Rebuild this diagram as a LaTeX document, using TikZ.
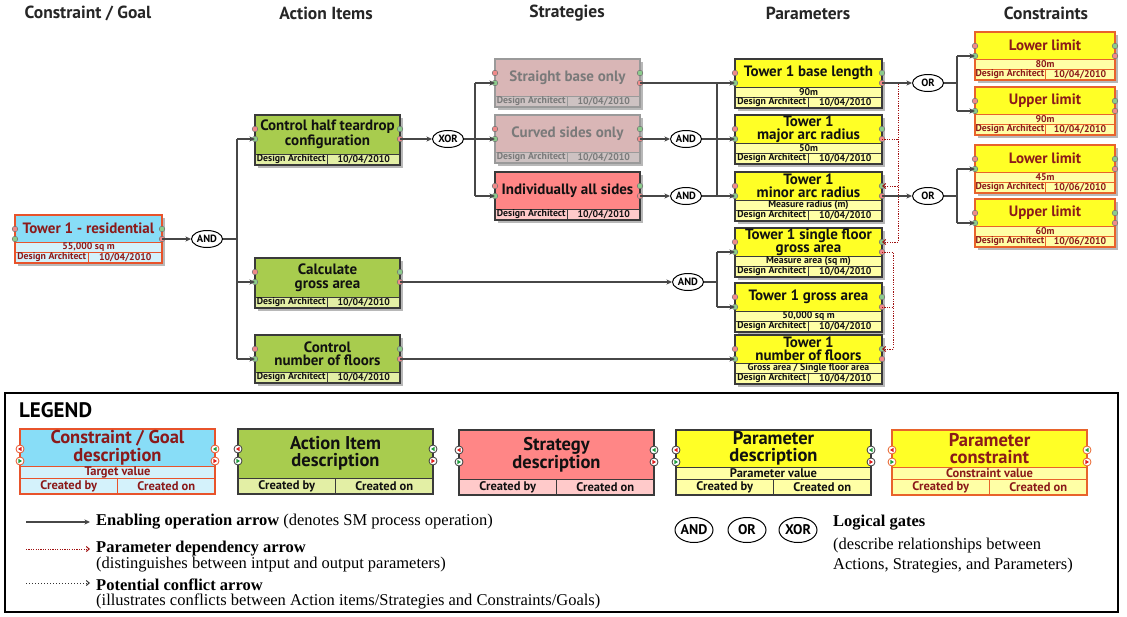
\documentclass[tikz,border=0pt]{standalone}
\usepackage{fontspec}
\setmainfont{Liberation Serif}
\newfontfamily\bsans{PT Sans}
\usetikzlibrary{shapes.geometric,arrows.meta}

\definecolor{cgmain}{HTML}{88DDF7}
\definecolor{cglight}{HTML}{D4F2FB}
\definecolor{cgborder}{HTML}{E8532B}
\definecolor{cgtext}{HTML}{8B1A1A}
\definecolor{aimain}{HTML}{A8CC4E}
\definecolor{ailight}{HTML}{E3EFA5}
\definecolor{aiborder}{HTML}{3A3A3A}
\definecolor{aitext}{HTML}{111111}
\definecolor{stmain}{HTML}{FF8686}
\definecolor{stlight}{HTML}{FFCACA}
\definecolor{stborder}{HTML}{3A3A3A}
\definecolor{sttext}{HTML}{111111}
\definecolor{sfmain}{HTML}{D9B6B6}
\definecolor{sflight}{HTML}{CDC2C2}
\definecolor{sfborder}{HTML}{9A9A9A}
\definecolor{sftext}{HTML}{7A7A7A}
\definecolor{pamain}{HTML}{FFFF26}
\definecolor{palight}{HTML}{FFFFA6}
\definecolor{paborder}{HTML}{3A3A3A}
\definecolor{patext}{HTML}{111111}
\definecolor{pcmain}{HTML}{FFFF26}
\definecolor{pclight}{HTML}{FFFFA6}
\definecolor{pcborder}{HTML}{E8632B}
\definecolor{pctext}{HTML}{8B1A1A}
\definecolor{portred}{HTML}{F08A8A}
\definecolor{portgreen}{HTML}{8CCB8C}
\definecolor{tred}{HTML}{E02020}
\definecolor{tgreen}{HTML}{20A040}
\definecolor{depred}{HTML}{A01010}

\tikzset{
  boxbase/.style={rectangle, anchor=north west, inner sep=0pt, outer sep=0pt, draw=none},
  titlefont/.style={font=\bsans\bfseries\fontsize{15}{13.5}\selectfont, align=center, inner sep=0pt},
  valfont/.style={font=\bsans\bfseries\fontsize{9.8}{10}\selectfont, inner sep=0pt},
  ltitlefont/.style={font=\bsans\bfseries\fontsize{18.5}{17.5}\selectfont, align=center, inner sep=0pt},
  lvalfont/.style={font=\bsans\bfseries\fontsize{12.5}{13}\selectfont, inner sep=0pt},
  gate/.style={ellipse, draw=black, line width=1pt, fill=white, font=\bsans\bfseries\fontsize{10.5}{10.5}\selectfont, inner sep=0pt, minimum width=31pt, minimum height=17pt},
  lgate/.style={gate, font=\bsans\bfseries\fontsize{14}{14}\selectfont, minimum width=38pt, minimum height=25pt},
  line/.style={draw=black!72, line width=1.2pt},
  conn/.style={line, -{Stealth[length=5.5pt,width=5pt,inset=1.5pt]}},
  dep/.style={draw=depred, line width=1pt, dash pattern=on 1.2pt off 1.2pt},
  deparrow/.style={dep, -{Straight Barb[length=3pt,width=5pt]}},
  confarrow/.style={draw=black!80, line width=1pt, dash pattern=on 1pt off 2pt, -{Straight Barb[length=3pt,width=5pt]}},
  header/.style={font=\bsans\bfseries\fontsize{17.5}{18}\selectfont, text=black!85},
  legtext/.style={font=\fontsize{16.5}{17}\selectfont, anchor=west, inner sep=0pt},
  portc/.style={draw=black!55, line width=.5pt},
}

% #1 colour prefix, #2 name, #3 x, #4 top y, #5 width, #6 height, #7 title, #8 value, #9 date
\newcommand\dbox[9]{%
  \pgfmathsetmacro\dBx{#3}%
  \pgfmathsetmacro\dBy{#4}%
  \pgfmathsetmacro\dBw{#5}%
  \pgfmathsetmacro\dBh{#6}%
  \pgfmathsetmacro\dBb{\dBy+\dBh-11}%
  \if\relax\detokenize{#8}\relax\let\dBv\dBb\else\pgfmathsetmacro\dBv{\dBb-10}\fi
  \fill[black,opacity=.28] ({\dBx+3},{\dBy+3}) rectangle ++(\dBw,\dBh);
  \node[boxbase, fill=#1main, minimum width=\dBw pt, minimum height=\dBh pt] (#2) at (\dBx,\dBy) {};
  \fill[#1light] (\dBx,\dBv) rectangle ({\dBx+\dBw},{\dBy+\dBh});
  \draw[#1border, line width=.6pt] (\dBx,\dBv) -- ++(\dBw,0) (\dBx,\dBb) -- ++(\dBw,0) ({\dBx+\dBw/2},\dBb) -- ++(0,11);
  \draw[#1border, line width=1.2pt] (\dBx,\dBy) rectangle ++(\dBw,\dBh);
  \node[#1text, titlefont] (#2-t) at ({\dBx+\dBw/2},{(\dBy+\dBv)/2}) {#7};
  \if\relax\detokenize{#8}\relax\else\node[#1text, valfont] (#2-v) at ({\dBx+\dBw/2},{(\dBv+\dBb)/2}) {#8};\fi
  \node[#1text, valfont] (#2-b) at ({\dBx+\dBw/4},{\dBb+5.5}) {Design Architect};
  \node[#1text, valfont] (#2-d) at ({\dBx+3*\dBw/4},{\dBb+5.5}) {#9};
  \coordinate (#2-lu) at (\dBx,{\dBy+14});
  \coordinate (#2-in) at (\dBx,{\dBy+24});
  \coordinate (#2-ru) at ({\dBx+\dBw},{\dBy+14});
  \coordinate (#2-out) at ({\dBx+\dBw},{\dBy+24});
  \draw[portc, fill=portred] (#2-lu) circle (2.8pt);
  \draw[portc, fill=portgreen] (#2-in) circle (2.8pt);
  \draw[portc, fill=portgreen] (#2-ru) circle (2.8pt);
  \draw[portc, fill=portred] (#2-out) circle (2.8pt);
}

\newcommand\ltri[3]{\fill[#3, shift={(#1)}, xscale=#2] (-2,0) -- (1.6,-2.2) -- (1.6,2.2) -- cycle;}

% #1 prefix, #2 name, #3 x, #4 y, #5 title, #6 value
\newcommand\lbox[6]{%
  \pgfmathsetmacro\dBx{#3}%
  \pgfmathsetmacro\dBy{#4}%
  \def\dBw{195}\def\dBh{65}%
  \pgfmathsetmacro\dBb{\dBy+49}%
  \if\relax\detokenize{#6}\relax\let\dBv\dBb\else\pgfmathsetmacro\dBv{\dBb-12}\fi
  \node[boxbase, fill=#1main, minimum width=195pt, minimum height=65pt] (#2) at (\dBx,\dBy) {};
  \fill[#1light] (\dBx,\dBv) rectangle ({\dBx+\dBw},{\dBy+\dBh});
  \draw[#1border, line width=.7pt] (\dBx,\dBv) -- ++(\dBw,0) (\dBx,\dBb) -- ++(\dBw,0) ({\dBx+\dBw/2},\dBb) -- ++(0,16);
  \draw[#1border, line width=1.3pt] (\dBx,\dBy) rectangle ++(\dBw,\dBh);
  \node[#1text, ltitlefont] (#2-t) at ({\dBx+\dBw/2},{(\dBy+\dBv)/2}) {#5};
  \if\relax\detokenize{#6}\relax\else\node[#1text, lvalfont] (#2-v) at ({\dBx+\dBw/2},{(\dBv+\dBb)/2}) {#6};\fi
  \node[#1text, lvalfont] (#2-b) at ({\dBx+\dBw/4},{\dBb+8}) {Created by};
  \node[#1text, lvalfont] (#2-d) at ({\dBx+3*\dBw/4},{\dBb+8}) {Created on};
  \coordinate (#2-lu) at (\dBx,{\dBy+20});
  \coordinate (#2-in) at (\dBx,{\dBy+32});
  \coordinate (#2-ru) at ({\dBx+\dBw},{\dBy+20});
  \coordinate (#2-out) at ({\dBx+\dBw},{\dBy+32});
  \foreach \pp in {lu,in,ru,out}{\draw[#1border, fill=white, line width=.8pt] (#2-\pp) circle (4pt);}
  \ltri{#2-lu}{1}{tred}
  \ltri{#2-in}{-1}{tgreen}
  \ltri{#2-ru}{1}{tgreen}
  \ltri{#2-out}{-1}{tred}
}

\begin{document}
\begin{tikzpicture}[x=1pt,y=-1pt]
\useasboundingbox (0,0) rectangle (1127,616);
\fill[white] (0,0) rectangle (1127,616);

% headers
\node[header] (h1) at (88,13) {Constraint / Goal};
\node[header] (h2) at (326,13) {Action Items};
\node[header] (h3) at (567,13) {Strategies};
\node[header] (h4) at (808,13) {Parameters};
\node[header] (h5) at (1046,13) {Constraints};

% boxes
\dbox{cg}{tres}{15}{215}{147}{48}{Tower 1 - residential}{55,000 sq m}{10/04/2010}
\dbox{ai}{act1}{255}{115}{145}{50}{Control half teardrop\\configuration}{}{10/04/2010}
\dbox{ai}{act2}{255}{258}{145}{50}{Calculate\\gross area}{}{10/04/2010}
\dbox{ai}{act3}{255}{335}{145}{48}{Control\\number of floors}{}{10/04/2010}
\dbox{sf}{st1}{495}{59}{145}{48}{Straight base only}{}{10/04/2010}
\dbox{sf}{st2}{495}{115}{145}{48}{Curved sides only}{}{10/04/2010}
\dbox{st}{st3}{495}{172}{145}{48}{Individually all sides}{}{10/04/2010}
\dbox{pa}{p1}{735}{59}{147}{49}{Tower 1 base length}{90m}{10/04/2010}
\dbox{pa}{p2}{735}{115}{147}{49}{Tower 1\\major arc radius}{50m}{10/04/2010}
\dbox{pa}{p3}{735}{172}{147}{49}{Tower 1\\minor arc radius}{Measure radius (m)}{10/04/2010}
\dbox{pa}{p4}{735}{228}{147}{49}{Tower 1 single floor\\gross area}{Measure area (sq m)}{10/04/2010}
\dbox{pa}{p5}{735}{283}{147}{49}{Tower 1 gross area}{50,000 sq m}{10/04/2010}
\dbox{pa}{p6}{735}{335}{147}{49}{Tower 1\\number of floors}{Gross area / Single floor area}{10/04/2010}
\dbox{pc}{c1}{975}{32}{140}{48}{Lower limit}{80m}{10/04/2010}
\dbox{pc}{c2}{975}{87}{140}{48}{Upper limit}{90m}{10/04/2010}
\dbox{pc}{c3}{975}{145}{140}{48}{Lower limit}{45m}{10/06/2010}
\dbox{pc}{c4}{975}{199}{140}{48}{Upper limit}{60m}{10/06/2010}

% gates
\node[gate] (g1) at (207,239) {AND};
\node[gate] (g2) at (448,139) {XOR};
\node[gate] (g3) at (686,139) {AND};
\node[gate] (g4) at (686,196) {AND};
\node[gate] (g5) at (688,282) {AND};
\node[gate] (g6) at (928,83) {OR};
\node[gate] (g7) at (928,196) {OR};

% junction coordinates
\coordinate (j1) at (237,239);
\coordinate (j2) at (475,139);
\coordinate (j3) at (717,139);
\coordinate (j4) at (717,282);
\coordinate (j5) at (957,83);
\coordinate (j6) at (957,196);

% dependency lines (under the black ones)
\coordinate (d1) at (898,83);
\coordinate (d2) at (893,252);
\draw[dep] (p1-out) -- (d1) -- (d1 |- p4-ru);
\draw[dep] (p2-out) -- (d1 |- p2-out);
\draw[deparrow] (d1 |- p3-ru) -- (p3-ru);
\draw[deparrow] (d1 |- p4-ru) -- (p4-ru);
\draw[dep] (p4-out) -- (d2) -- (d2 |- p6-ru);
\draw[dep] (p5-out) -- (d2 |- p5-out);
\draw[deparrow] (d2 |- p6-ru) -- (p6-ru);

% connectors
\draw[conn] (tres-out) -- (g1);
\draw[line] (g1) -- (j1);
\draw[line] (j1 |- act1-in) -- (j1 |- act3-in);
\foreach \n in {act1,act2,act3}{\draw[conn] (j1 |- \n-in) -- (\n-in);}
\draw[conn] (act1-out) -- (g2);
\draw[line] (g2) -- (j2);
\draw[line] (j2 |- st1-in) -- (j2 |- st3-in);
\foreach \n in {st1,st2,st3}{\draw[conn] (j2 |- \n-in) -- (\n-in);}
\draw[conn] (st1-out) -- (p1-in);
\draw[conn] (st2-out) -- (g3);
\draw[conn] (g3) -- (p2-in);
\draw[conn] (st3-out) -- (g4);
\draw[conn] (g4) -- (p3-in);
\draw[line] (j3 |- p1-in) -- (j3 |- p3-in);
\draw[conn] (act2-out) -- (g5);
\draw[line] (g5) -- (j4);
\draw[line] (j4 |- p4-in) -- (j4 |- p5-in);
\draw[conn] (j4 |- p4-in) -- (p4-in);
\draw[conn] (j4 |- p5-in) -- (p5-in);
\draw[conn] (act3-out) -- (p6-in);
\draw[conn] (p1-out) -- (g6);
\draw[line] (g6) -- (j5);
\draw[line] (j5 |- c1-in) -- (j5 |- c2-in);
\draw[conn] (j5 |- c1-in) -- (c1-in);
\draw[conn] (j5 |- c2-in) -- (c2-in);
\draw[conn] (p3-out) -- (g7);
\draw[line] (g7) -- (j6);
\draw[line] (j6 |- c3-in) -- (j6 |- c4-in);
\draw[conn] (j6 |- c3-in) -- (c3-in);
\draw[conn] (j6 |- c4-in) -- (c4-in);

% legend
\draw[black, line width=1.5pt] (5,393) rectangle (1118,612);
\node[font=\bsans\bfseries\fontsize{21}{21}\selectfont, anchor=west, inner sep=0pt] (lt) at (19,410) {LEGEND};
\lbox{cg}{L1}{20}{429}{Constraint / Goal\\description}{Target value}
\lbox{ai}{L2}{238}{429}{Action Item\\description}{}
\lbox{st}{L3}{459}{430}{Strategy\\description}{}
\lbox{pa}{L4}{676}{430}{Parameter\\description}{Parameter value}
\lbox{pc}{L5}{892}{430}{Parameter\\constraint}{Constraint value}

\coordinate (la1s) at (26,522); \coordinate (la1e) at (90,522);
\coordinate (la2s) at (26,549); \coordinate (la2e) at (90,549);
\coordinate (la3s) at (26,583); \coordinate (la3e) at (90,583);
\draw[conn] (la1s) -- (la1e);
\draw[deparrow] (la2s) -- (la2e);
\draw[confarrow] (la3s) -- (la3e);
\node[legtext] (e1) at (96,522) {\textbf{Enabling operation arrow} (denotes SM process operation)};
\node[legtext] (e2) at (96,549) {\textbf{Parameter dependency arrow}};
\node[legtext] (e2b) at (96,565) {(distinguishes between intput and output parameters)};
\node[legtext] (e3) at (96,585) {\textbf{Potential conflict arrow}};
\node[legtext] (e3b) at (96,601) {(illustrates conflicts between Action items/Strategies and Constraints/Goals)};

\node[lgate] (lg1) at (694,530) {AND};
\node[lgate] (lg2) at (747,530) {OR};
\node[lgate] (lg3) at (798,530) {XOR};
\node[legtext] (e4) at (833,523) {\textbf{Logical gates}};
\node[legtext] (e4b) at (833,546) {(describe relationships between};
\node[legtext] (e4c) at (833,566) {Actions, Strategies, and Parameters)};
\end{tikzpicture}
\end{document}
